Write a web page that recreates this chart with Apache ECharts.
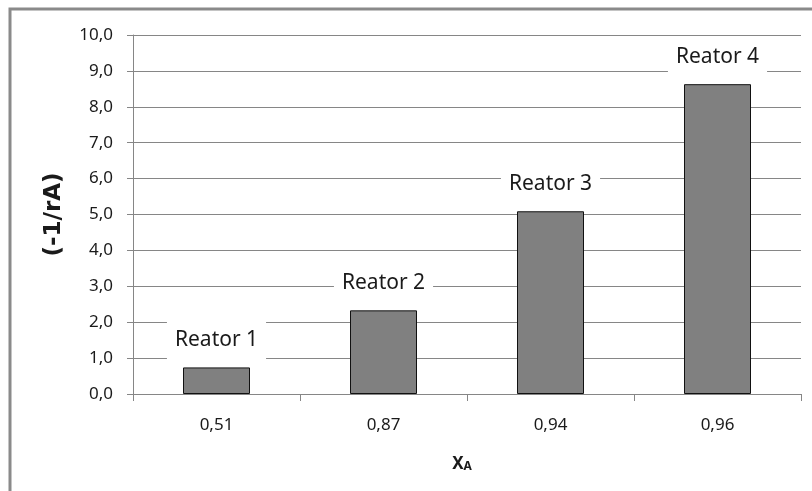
<!DOCTYPE html>
<html>
<head>
<meta charset="utf-8">
<script src="https://cdn.jsdelivr.net/npm/echarts@6/dist/echarts.min.js"></script>
<style>
  html, body { margin: 0; padding: 0; background: #fff; }
  #chart { width: 812px; height: 491px; }
</style>
</head>
<body>
<div id="chart"></div>
<script>
// Conversion per reactor and the matching (-1/rA) value
const conversions = ['0,51', '0,87', '0,94', '0,96'];
const reactorNames = ['Reator 1', 'Reator 2', 'Reator 3', 'Reator 4'];
const invRate = [0.74, 2.33, 5.09, 8.63];

const chart = echarts.init(document.getElementById('chart'));
const fmt = v => v.toFixed(1).replace('.', ',');
const textFont = '"Noto Sans", "Open Sans", sans-serif';
const boldFont = '"DejaVu Sans", "Noto Sans", sans-serif';

chart.setOption({
  animation: false,
  backgroundColor: '#fff',
  textStyle: { fontFamily: textFont },
  graphic: [{
    type: 'rect',
    shape: { x: 10, y: 9, width: 830, height: 520 },
    style: { fill: 'none', stroke: '#8a8a8a', lineWidth: 3 },
    z: -1
  }],
  grid: { left: 133, right: 11, top: 35, bottom: 97 },
  xAxis: {
    type: 'category',
    data: conversions,
    name: '{x|X}{a|A}',
    nameLocation: 'middle',
    nameGap: 62,
    nameTextStyle: {
      padding: [0, 10, 0, 0],
      rich: {
        x: { fontSize: 17, fontWeight: 'bold', color: '#1a1a1a', fontFamily: textFont },
        a: { fontSize: 12, fontWeight: 'bold', color: '#1a1a1a', fontFamily: textFont, verticalAlign: 'bottom', padding: [5, 0, 0, 0] }
      }
    },
    axisLine: { lineStyle: { color: '#868686', width: 1 } },
    axisTick: { show: true, length: 7, alignWithLabel: false, lineStyle: { color: '#868686' } },
    axisLabel: { fontSize: 17, color: '#1a1a1a', margin: 23, fontFamily: textFont }
  },
  yAxis: {
    type: 'value',
    min: 0,
    max: 10,
    interval: 1,
    name: '(-1/rA)',
    nameLocation: 'middle',
    nameGap: 67,
    nameRotate: 90,
    nameTextStyle: { fontSize: 23, fontWeight: 'bold', color: '#1a1a1a', fontFamily: boldFont },
    axisLine: { show: true, lineStyle: { color: '#868686', width: 1 } },
    axisTick: { show: true, length: 6, lineStyle: { color: '#868686' } },
    axisLabel: { fontSize: 17, color: '#1a1a1a', margin: 20, formatter: fmt, fontFamily: textFont },
    splitLine: { show: true, lineStyle: { color: '#868686', width: 1 } }
  },
  series: [{
    type: 'bar',
    data: invRate.map((v, i) => ({ value: v, label: { formatter: reactorNames[i] } })),
    barWidth: 67,
    itemStyle: { color: '#808080', borderColor: '#111', borderWidth: 1 },
    label: {
      show: true,
      position: 'top',
      distance: 6,
      fontSize: 21,
      color: '#1a1a1a',
      fontFamily: textFont,
      backgroundColor: '#fff',
      padding: [8, 8],
      lineHeight: 26
    }
  }]
});
</script>
</body>
</html>
